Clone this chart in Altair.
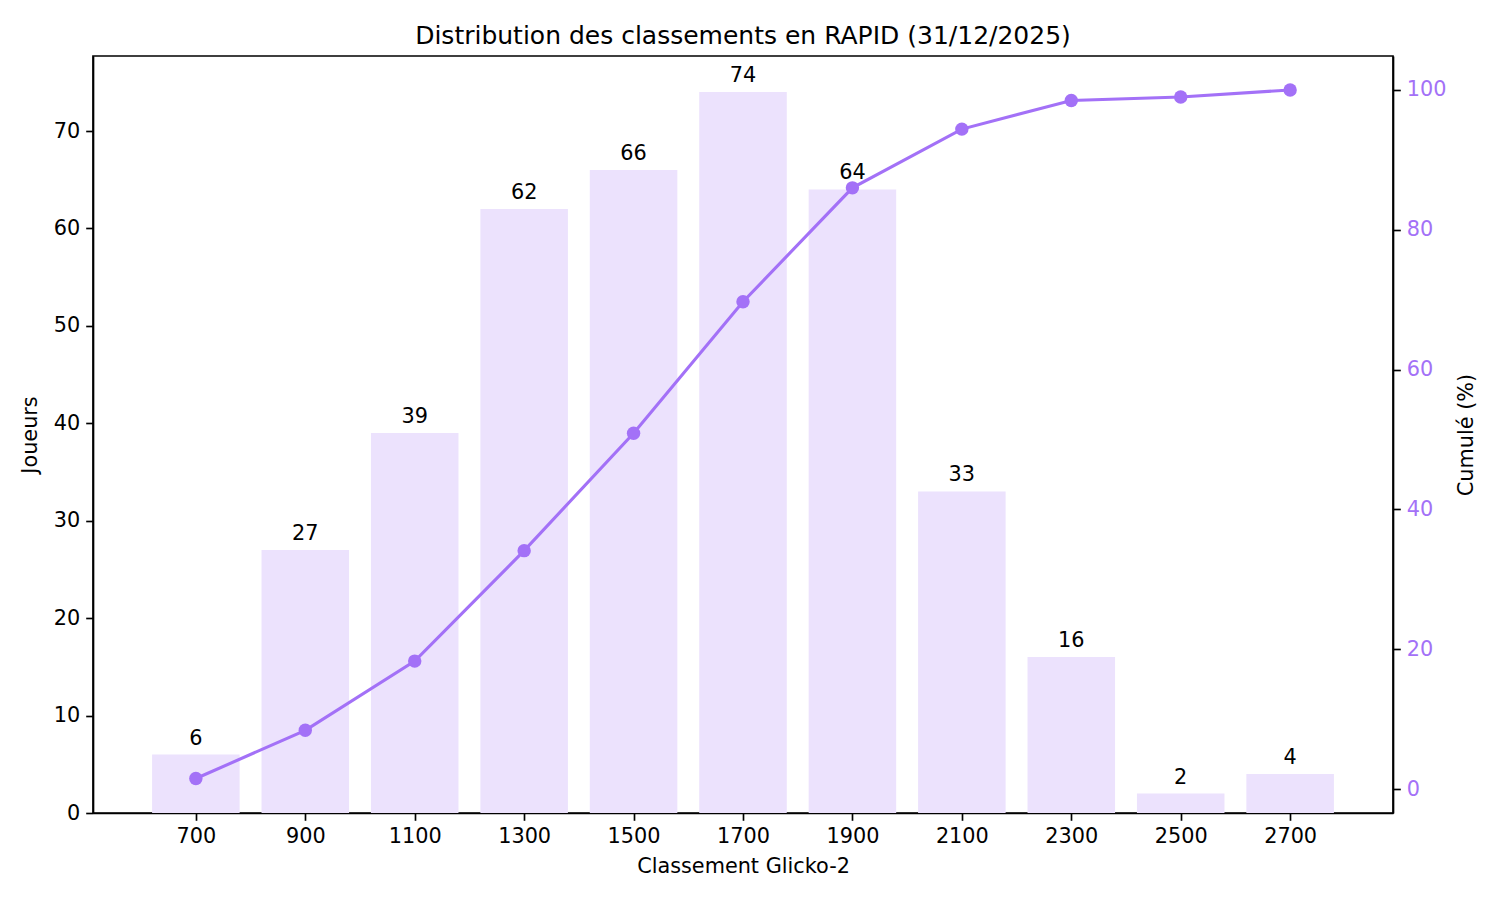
import altair as alt
import pandas as pd

ratings = [700, 900, 1100, 1300, 1500, 1700, 1900, 2100, 2300, 2500, 2700]
players = [6, 27, 39, 62, 66, 74, 64, 33, 16, 2, 4]
cumul_pct = [1.5, 8.4, 18.3, 34.1, 50.9, 69.7, 86.0, 94.4, 98.5, 99.0, 100.0]

df = pd.DataFrame({"rating": ratings, "players": players, "cumul": cumul_pct})

FONT = "DejaVu Sans"
LINE = "#a371f7"
BAR = "#ece2fd"

xscale = alt.Scale(domain=[512, 2888], nice=False, zero=False)
xaxis = alt.Axis(values=ratings, title="Classement Glicko-2", format="d", grid=False, titlePadding=10)

base = alt.Chart(df)

bars = base.transform_calculate(
    x1="datum.rating - 80", x2="datum.rating + 80"
).mark_bar(color=BAR).encode(
    x=alt.X("x1:Q", scale=xscale, axis=xaxis),
    x2="x2:Q",
    y=alt.Y("players:Q", scale=alt.Scale(domain=[0, 77.7], nice=False),
            axis=alt.Axis(values=list(range(0, 71, 10)), title="Joueurs", grid=False,
                          titlePadding=13)),
    y2=alt.datum(0),
)

labels = base.mark_text(font=FONT, fontSize=20.8, color="black", baseline="alphabetic", dy=-10).encode(
    x=alt.X("rating:Q", scale=xscale, axis=xaxis),
    y=alt.Y("players:Q"),
    text=alt.Text("players:Q"),
)

yright = alt.Y("cumul:Q", scale=alt.Scale(domain=[-3.43, 104.86], nice=False, zero=False),
               axis=alt.Axis(orient="right", values=[0, 20, 40, 60, 80, 100], title="Cumulé (%)",
                             labelColor=LINE, grid=False, titlePadding=31, titleAngle=270))

line = base.mark_line(color=LINE, strokeWidth=3.1).encode(
    x=alt.X("rating:Q", scale=xscale, axis=xaxis),
    y=yright,
)
points = base.mark_circle(color=LINE, size=180, opacity=1).encode(
    x=alt.X("rating:Q", scale=xscale, axis=xaxis),
    y=alt.Y("cumul:Q"),
)

chart = alt.layer(alt.layer(bars, labels), alt.layer(line, points)).resolve_scale(y="independent").properties(
    width=1300, height=757,
    title=alt.TitleParams("Distribution des classements en RAPID (31/12/2025)",
                          font=FONT, fontSize=25, fontWeight="normal", color="black", offset=7),
    autosize=alt.AutoSizeParams(type="none"),
    padding={"left": 85, "top": 48, "right": 99, "bottom": 79},
    background="white",
).configure_view(
    stroke="black", strokeWidth=1.67
).configure_axis(
    labelFont=FONT, titleFont=FONT, labelFontSize=20.8, titleFontSize=20.8,
    titleFontWeight="normal", labelColor="black", titleColor="black",
    tickColor="black", tickSize=7.3, tickWidth=1.67, domainColor="black", domainWidth=1.67,
    labelPadding=6,
)

chart.save("out.html", embed_options={"renderer": "svg", "actions": False})
